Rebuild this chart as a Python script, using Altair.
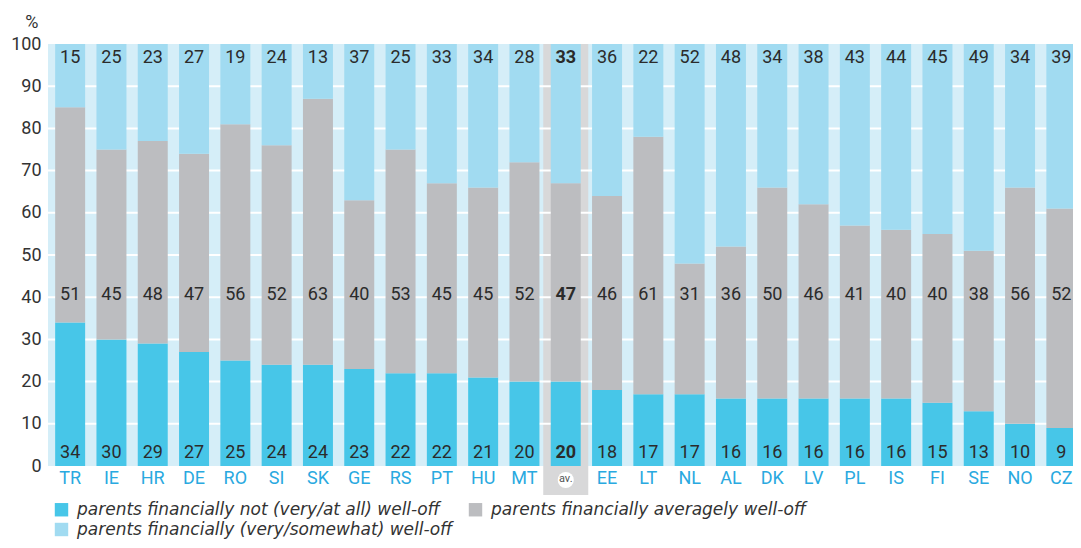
import altair as alt
import pandas as pd

countries = ["TR", "IE", "HR", "DE", "RO", "SI", "SK", "GE", "RS", "PT", "HU", "MT", "av.",
             "EE", "LT", "NL", "AL", "DK", "LV", "PL", "IS", "FI", "SE", "NO", "CZ"]
not_well_off = [34, 30, 29, 27, 25, 24, 24, 23, 22, 22, 21, 20, 20,
                18, 17, 17, 16, 16, 16, 16, 16, 15, 13, 10, 9]
averagely_well_off = [51, 45, 48, 47, 56, 52, 63, 40, 53, 45, 45, 52, 47,
                      46, 61, 31, 36, 50, 46, 41, 40, 40, 38, 56, 52]
well_off = [15, 25, 23, 27, 19, 24, 13, 37, 25, 33, 34, 28, 33,
            36, 22, 52, 48, 34, 38, 43, 44, 45, 49, 34, 39]
series_names = [
    "parents financially not (very/at all) well-off",
    "parents financially averagely well-off",
    "parents financially (very/somewhat) well-off",
]
series_colors = ["#47c6e8", "#bcbdc0", "#a1dbf1"]
y_ticks = [0, 10, 20, 30, 40, 50, 60, 70, 80, 90, 100]
grid_values = [10, 20, 30, 40, 50, 60, 70, 80, 90]
AVG = "av."

# legend order (the legend grid is filled column by column)
legend_order = [series_names[0], series_names[2], series_names[1]]
legend_colors = [series_colors[0], series_colors[2], series_colors[1]]

# label anchor (in axis units) for each segment's number
label_pos = {series_names[0]: 3.1, series_names[1]: 40.6, series_names[2]: 96.8}

W, H = 1025, 422
STEP = 41.3

rows = []
for i, c in enumerate(countries):
    base = 0
    for name, vals in zip(series_names, [not_well_off, averagely_well_off, well_off]):
        v = vals[i]
        rows.append({"country": c, "series": name, "value": v, "y0": base, "y1": base + v,
                     "ly": label_pos[name]})
        base += v
df = pd.DataFrame(rows)
grid_df = pd.DataFrame({"g": grid_values})
cdf = pd.DataFrame({"country": countries})

xscale = alt.Scale(domain=countries, paddingInner=0, paddingOuter=0,
                   range=[1.5, 1.5 + STEP * len(countries)])
yscale = alt.Scale(domain=[0, 100], nice=False, clamp=True)
xaxis = alt.Axis(title=None, labelExpr="datum.value == 'av.' ? '' : datum.value",
                 labelColor="#29a9e0", labelFontSize=18, labelPadding=3,
                 ticks=False, domain=False, labelAngle=0)
yaxis = alt.Axis(title="%", values=y_ticks, grid=False, ticks=False, domain=False,
                 labelFontSize=18, labelColor="#333333", labelPadding=7,
                 titleAngle=0, titleAlign="right", titleBaseline="alphabetic",
                 titleX=-10, titleY=-17, titleFontSize=18, titleFontWeight="normal",
                 titleColor="#333333")

X = alt.X("country:N", scale=xscale, axis=xaxis, sort=countries)

avg_bg = alt.Chart(cdf).transform_filter(alt.datum.country == AVG).mark_bar(
    color="#d8d8d9", width={"band": 1.09}
).encode(x=X, y=alt.value(0), y2=alt.value(H + 29))

grid = alt.Chart(grid_df).mark_rule(color="white", strokeWidth=2).encode(
    y=alt.Y("g:Q", scale=yscale, axis=yaxis), x=alt.value(0), x2=alt.value(W)
)

bars = alt.Chart(df).mark_bar(width={"band": 0.726}).encode(
    x=X,
    y=alt.Y("y0:Q", scale=yscale, axis=yaxis),
    y2="y1:Q",
    color=alt.Color(
        "series:N",
        scale=alt.Scale(domain=legend_order, range=legend_colors),
        legend=alt.Legend(orient="none", legendX=5, legendY=457, columns=2, title=None,
                          symbolType="square", symbolSize=180, symbolStrokeWidth=0,
                          labelFont="DejaVu Sans", labelFontSize=17,
                          labelFontStyle="italic", labelColor="#333333",
                          columnPadding=14, rowPadding=2, labelOffset=7, labelLimit=600,
                          padding=0),
    ),
)

text_normal = alt.Chart(df).transform_filter(alt.datum.country != AVG).mark_text(
    fontSize=18, color="#2b2b2b", baseline="middle"
).encode(x=X, y=alt.Y("ly:Q", scale=yscale, axis=yaxis), text="value:Q")

text_bold = alt.Chart(df).transform_filter(alt.datum.country == AVG).mark_text(
    fontSize=18, color="#2b2b2b", baseline="middle", fontWeight="bold"
).encode(x=X, y=alt.Y("ly:Q", scale=yscale, axis=yaxis), text="value:Q")

avg_circle = alt.Chart(cdf).transform_filter(alt.datum.country == AVG).mark_point(
    shape="circle", filled=True, color="white", opacity=1, size=260
).encode(x=X, y=alt.value(H + 14))

avg_text = alt.Chart(cdf).transform_filter(alt.datum.country == AVG).mark_text(
    fontSize=11, color="#555555", baseline="middle", dy=-1
).encode(x=X, y=alt.value(H + 14), text="country:N")

chart = alt.layer(avg_bg, grid, bars, text_normal, text_bold, avg_circle, avg_text).properties(
    width=W, height=H,
    autosize=alt.AutoSizeParams(type="none"),
    padding={"left": 40, "top": 36, "right": 0, "bottom": 74},
).configure(font="Roboto").configure_view(stroke=None, fill="#d5eef8")

chart.save("out.html", embed_options={"renderer": "svg", "actions": False})
